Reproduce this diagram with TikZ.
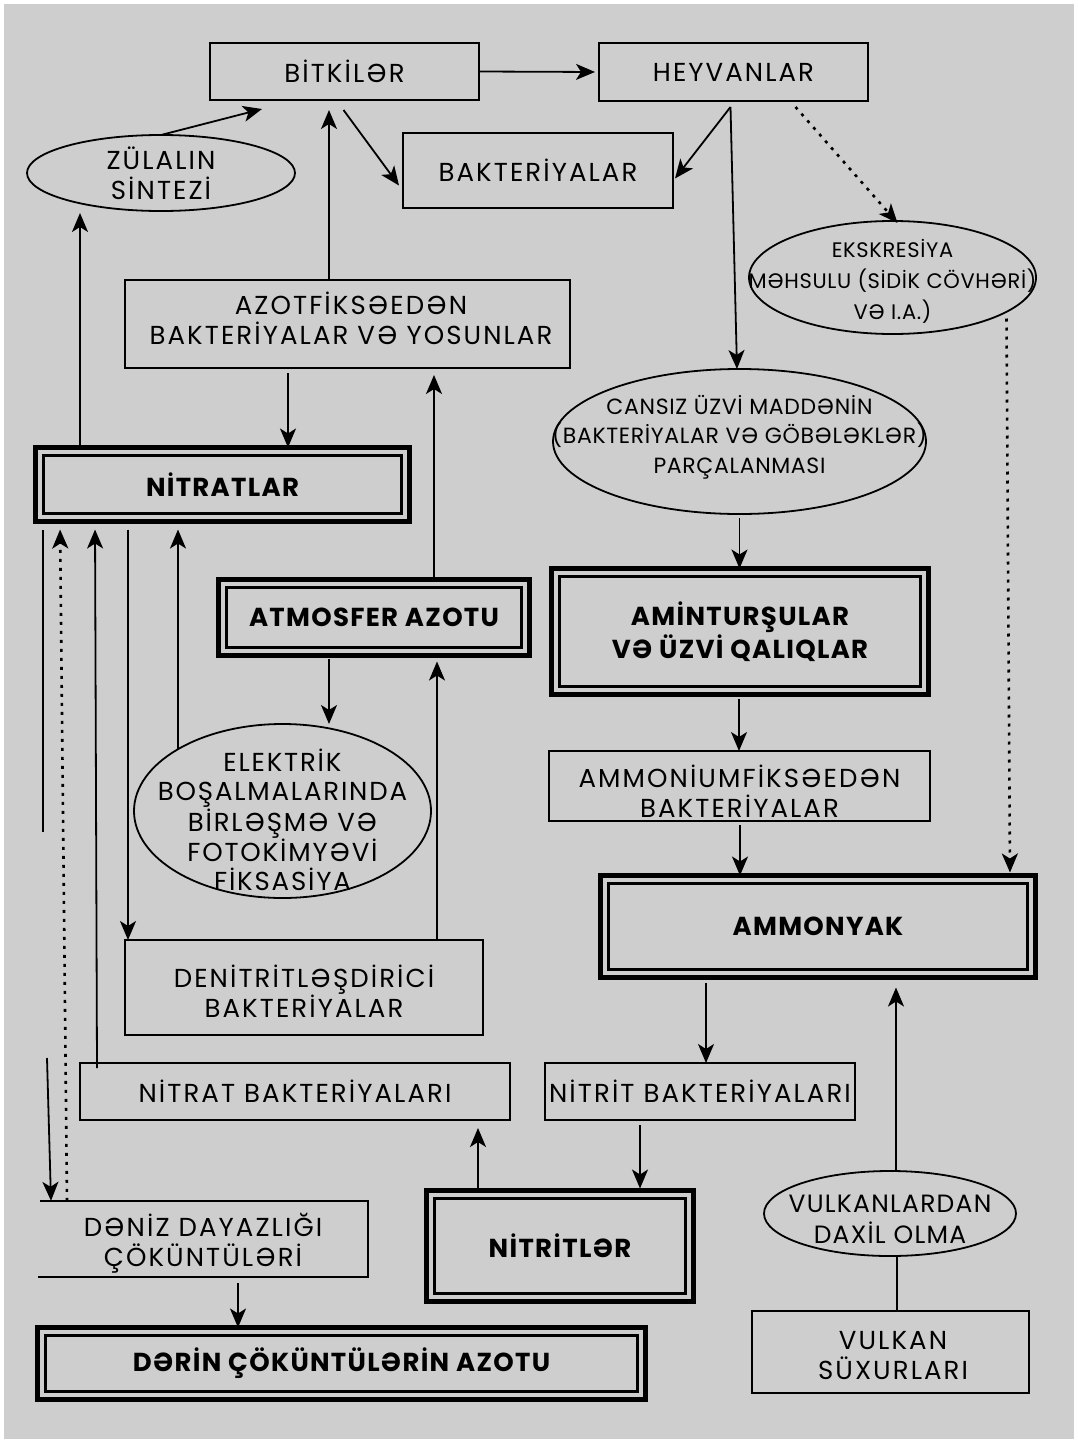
\documentclass[tikz,border=0pt]{standalone}
\usepackage{fontspec}
\setmainfont{Poppins}
\usetikzlibrary{arrows.meta,shapes.geometric,calc}
\definecolor{paper}{RGB}{206,206,206}

\begin{document}
\begin{tikzpicture}[x=1pt,y=-1pt,
  txt/.style={align=center, text=black, inner sep=0pt, font=\fontsize{26}{30}\selectfont\addfontfeature{LetterSpace=8}},
  btxt/.style={txt, font=\fontsize{26}{33}\selectfont\bfseries\addfontfeature{LetterSpace=5}},
  box/.style={draw, line width=1.8pt, inner sep=0pt, outer sep=0pt, txt},
  dbox/.style={draw, line width=5pt, inner sep=0pt, outer sep=0pt, btxt},
  oval/.style={draw, ellipse, line width=1.8pt, inner sep=0pt, outer sep=0pt},
  arr/.style={line width=1.8pt, -{Stealth[length=19pt,width=16pt,inset=5pt]}},
  dotarr/.style={arr, dash pattern=on 3pt off 6pt, line width=2.6pt},
  ln/.style={line width=1.8pt},
]
% page and paper
\useasboundingbox (0,0) rectangle (1078,1443);
\fill[white] (0,0) rectangle (1078,1443);
\fill[paper] (4,4) rectangle (1074,1439);

% plain boxes
\node[box, minimum width=269, minimum height=57] (bit) at (344.5,71.5) {BİTKİLƏR};
\node[box, minimum width=269, minimum height=58] (hey) at (733.5,72) {HEYVANLAR};
\node[box, minimum width=270, minimum height=75] (bak) at (538,170.5) {BAKTERİYALAR};
\node[box, minimum width=445, minimum height=88] (azf) at (347.5,324) {};
\node[txt] (azf-t) at (351,318) {AZOTFİKSƏEDƏN\\BAKTERİYALAR VƏ YOSUNLAR};
\node[box, minimum width=381, minimum height=70] (amf) at (739.5,786) {};
\node[txt] (amf-t) at (739.5,791) {AMMONİUMFİKSƏEDƏN\\BAKTERİYALAR};
\node[box, minimum width=358, minimum height=95] (den) at (304,987.5) {};
\node[txt] (den-t) at (304,991) {DENİTRİTLƏŞDİRİCİ\\BAKTERİYALAR};
\node[box, minimum width=430, minimum height=57] (ntb) at (295,1091.5) {NİTRAT BAKTERİYALARI};
\node[box, minimum width=310, minimum height=57] (ntr) at (700,1091.5) {NİTRİT BAKTERİYALARI};
\node[box, minimum width=277, minimum height=82] (vks) at (890.5,1352) {};
\node[txt] (vks-t) at (893,1355) {VULKAN\\SÜXURLARI};

% box open on its left side
\node[txt, minimum width=328, minimum height=76] (dnz) at (204,1239) {};
\node[txt] (dnz-t) at (203,1243) {DƏNİZ DAYAZLIĞI\\ÇÖKÜNTÜLƏRİ};
\draw[ln] (dnz.north west) -- (dnz.north east) -- (dnz.south east) -- ([xshift=-2pt]dnz.south west);

% double-framed boxes
\node[dbox, minimum width=374, minimum height=74] (nit) at (222.5,484.5) {NİTRATLAR};
\node[dbox, minimum width=311, minimum height=76] (atm) at (374,617.5) {ATMOSFER AZOTU};
\node[dbox, minimum width=377, minimum height=126] (ami) at (740,631.5) {AMİNTURŞULAR\\VƏ ÜZVİ QALIQLAR};
\node[dbox, minimum width=435, minimum height=102] (amy) at (818,926.5) {AMMONYAK};
\node[dbox, minimum width=267, minimum height=111] (nitr) at (560,1246) {NİTRİTLƏR};
\node[dbox, minimum width=608, minimum height=72] (drn) at (341.5,1363.5) {DƏRİN ÇÖKÜNTÜLƏRİN AZOTU};
\foreach \n in {nit,atm,ami,amy,nitr,drn}
  \draw[line width=2.2pt] ([xshift=8pt,yshift=-8pt]\n.north west) rectangle ([xshift=-8pt,yshift=8pt]\n.south east);

% ellipses
\node[oval, minimum width=268, minimum height=76] (zul) at (161,173) {};
\node[txt] (zul-t) at (161,173) {ZÜLALIN\\SİNTEZİ};
\node[oval, minimum width=287, minimum height=113] (eks) at (892.5,277.5) {};
\node[txt, font=\fontsize{21}{31}\selectfont\addfontfeature{LetterSpace=3}] (eks-t) at (892.5,281) {EKSKRESİYA\\MƏHSULU (SİDİK CÖVHƏRİ)\\VƏ I.A.)};
\node[oval, minimum width=373, minimum height=145] (cns) at (739.5,441.5) {};
\node[txt, font=\fontsize{22}{29.5}\selectfont\addfontfeature{LetterSpace=3}] (cns-t) at (739.5,437) {CANSIZ ÜZVİ MADDƏNİN\\(BAKTERİYALAR VƏ GÖBƏLƏKLƏR)\\PARÇALANMASI};
\node[oval, minimum width=297, minimum height=174] (ele) at (282.5,811) {};
\node[txt, font=\fontsize{26}{29}\selectfont\addfontfeature{LetterSpace=7}] (ele-t) at (282.5,820) {ELEKTRİK\\BOŞALMALARINDA\\BİRLƏŞMƏ VƏ\\FOTOKİMYƏVİ\\FİKSASİYA};
\node[oval, minimum width=252, minimum height=85] (vul) at (890,1213.5) {};
\node[txt, font=\fontsize{25}{31}\selectfont\addfontfeature{LetterSpace=5}] (vul-t) at (890,1219) {VULKANLARDAN\\DAXİL OLMA};

% junction points and free line ends
\coordinate (hv) at ($(hey.south)+(-3,6)$);
\coordinate (lA) at (43,832);
\coordinate (lB) at (47,1058);

% upper part
\draw[arr, shorten >=4pt] (bit.east) -- (hey.west);
\draw[arr] (zul.north) -- ($(bit.south west)+(52,9)$);
\draw[arr] ($(bit.south)+(-1,10)$) -- ($(bak.west)+(-4,15)$);
\draw[arr, shorten >=10pt] (azf.north -| 329,0) -- (bit.south -| 329,0);
\draw[arr, shorten >=2pt] (nit.north -| 80,0) -- (zul.south -| 80,0);
\draw[arr] (hv) -- ($(bak.east)+(2,8)$);
\draw[arr] (hv) -- (cns.north -| 737,0);
\draw[dotarr] ($(hey.south)+(62,6)$) -- ($(eks.north)+(5,2)$);
\draw[dotarr, shorten >=3pt] ($(eks.center)+(114,41)$) -- (amy.north -| 1010,0);

% nitrogen fixation and nitrates
\draw[arr, shorten <=5pt] (azf.south -| 288,0) -- (nit.north -| 288,0);
\draw[arr, shorten >=7pt] (atm.north -| 434,0) -- (azf.south -| 434,0);
\draw[arr, shorten <=3pt] (atm.south -| 329,0) -- (ele.north -| 329,0);
\draw[arr, shorten >=6pt] (den.north -| 437,0) -- (atm.south -| 437,0);
\draw[arr, shorten >=8pt] ($(ele.center)+(-104.5,-62)$) -- (nit.south -| 178,0);

% left column of lines
\draw[ln] ($(nit.south -| 43,0)+(0,8)$) -- (lA);
\draw[arr] (lB) -- (dnz.north -| 51,0);
\draw[dotarr, shorten >=8pt] (dnz.north -| 67,0) -- (nit.south -| 60,0);
\draw[arr, shorten >=8pt] ($(ntb.north -| 97,0)+(0,5)$) -- (nit.south -| 95,0);
\draw[arr, shorten <=8pt] (nit.south -| 128,0) -- (den.north -| 128,0);

% lower part
\draw[arr, shorten >=8pt] (nitr.north -| 478,0) -- (ntb.south -| 478,0);
\draw[arr, shorten <=5pt, shorten >=2pt] (ntr.south -| 640,0) -- (nitr.north -| 640,0);
\draw[arr, shorten <=6pt] (dnz.south -| 238,0) -- (drn.north -| 238,0);
\draw[arr, shorten <=4pt] (cns.south) -- (ami.north -| 739.5,0);
\draw[arr, shorten <=4pt] (ami.south -| 739,0) -- (amf.north -| 739,0);
\draw[arr, shorten <=4pt] (amf.south -| 740,0) -- (amy.north -| 740,0);
\draw[arr, shorten <=5pt] (amy.south -| 706,0) -- (ntr.north -| 706,0);
\draw[arr, shorten >=10pt] (vul.north -| 896,0) -- (amy.south -| 896,0);
\draw[ln] (vks.north -| 897,0) -- (vul.south -| 897,0);
\end{tikzpicture}
\end{document}
